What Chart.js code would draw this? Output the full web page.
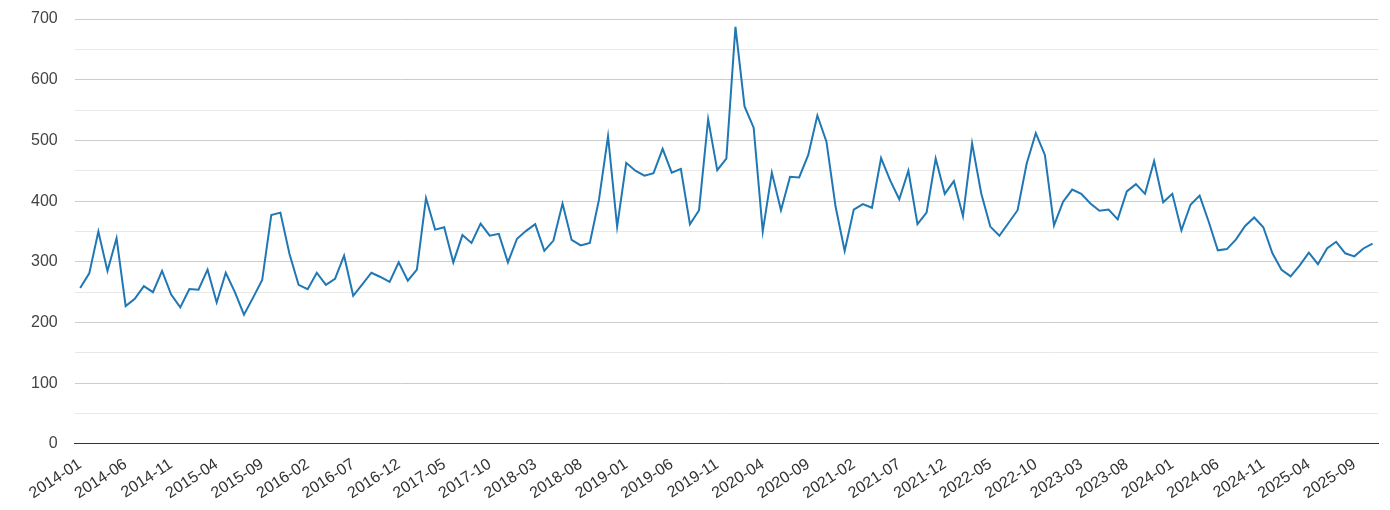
<!DOCTYPE html>
<html>
<head>
<meta charset="utf-8">
<script src="https://cdn.jsdelivr.net/npm/chart.js@4.4.1/dist/chart.umd.min.js"></script>
<style>
  html, body { margin: 0; padding: 0; background: #fff; }
  #wrap { width: 1390px; height: 510px; position: relative; }
</style>
</head>
<body>
<div id="wrap"><canvas id="myChart"></canvas></div>
<script>
// monthly values, 2014-01 .. 2025-11
const startYear = 2014
const valores = [
  257, 281, 350, 285, 339, 227, 239, 260, 250, 285,
  246, 225, 255, 254, 287, 233, 282, 250, 213, 241,
  270, 377, 381, 313, 262, 255, 282, 262, 272, 310,
  244, 263, 282, 275, 267, 299, 269, 287, 405, 353,
  357, 299, 344, 331, 363, 343, 346, 299, 338, 351,
  362, 318, 335, 396, 336, 327, 331, 402, 507, 358,
  463, 450, 442, 446, 486, 447, 453, 362, 385, 535,
  451, 470, 687, 556, 521, 350, 447, 385, 440, 439,
  476, 541, 498, 391, 318, 386, 395, 389, 471, 434,
  403, 450, 362, 381, 470, 412, 433, 375, 495, 413,
  358, 343, 364, 385, 462, 512, 476, 360, 399, 419,
  412, 396, 384, 386, 370, 416, 428, 412, 466, 398,
  412, 352, 394, 409, 366, 319, 321, 337, 359, 373,
  357, 314, 287, 276, 294, 315, 296, 322, 333, 314,
  309, 322, 330
]
const yTicks = [0, 100, 200, 300, 400, 500, 600, 700]

// category labels (year-month)
const meses = valores.map((v, i) => {
  const y = startYear + Math.floor(i / 12)
  const m = (i % 12) + 1
  return y + '-' + (m < 10 ? '0' + m : m)
})

const puntos = valores.map((v, i) => ({ x: i, y: v }))

const fuente = { family: "'Liberation Sans', Arial, sans-serif", size: 16 }

const config = {
  type: 'line',
  data: {
    datasets: [{
      label: 'valor',
      data: puntos,
      borderColor: '#1f77b4',
      borderWidth: 2,
      pointRadius: 0,
      tension: 0,
      fill: false
    }]
  },
  options: {
    responsive: true,
    maintainAspectRatio: false,
    animation: false,
    layout: { padding: { top: 19, left: 31, right: 12, bottom: 4 } },
    plugins: { legend: { display: false }, tooltip: { enabled: false } },
    scales: {
      x: {
        type: 'linear',
        min: -0.6,
        max: 142.6,
        grid: { display: false },
        border: { display: true, color: '#333', width: 1 },
        ticks: {
          stepSize: 5,
          includeBounds: false,
          autoSkip: false,
          minRotation: 33,
          maxRotation: 33,
          padding: 3,
          color: '#333',
          font: fuente,
          callback: (v) => meses[v] || ''
        }
      },
      y: {
        min: 0,
        max: 700,
        grid: {
          drawTicks: true,
          tickLength: 17,
          tickColor: 'rgba(0,0,0,0)',
          color: (ctx) => {
            const v = ctx.tick ? ctx.tick.value : 1
            if (v === 0) return '#333'
            return yTicks.includes(v) ? '#cccccc' : '#e8e8e8'
          }
        },
        border: { display: false },
        ticks: {
          stepSize: 50,
          padding: 0,
          color: '#444',
          font: fuente,
          callback: (v) => yTicks.includes(v) ? v : ''
        }
      }
    }
  }
}

new Chart(document.getElementById('myChart'), config)
</script>
</body>
</html>
